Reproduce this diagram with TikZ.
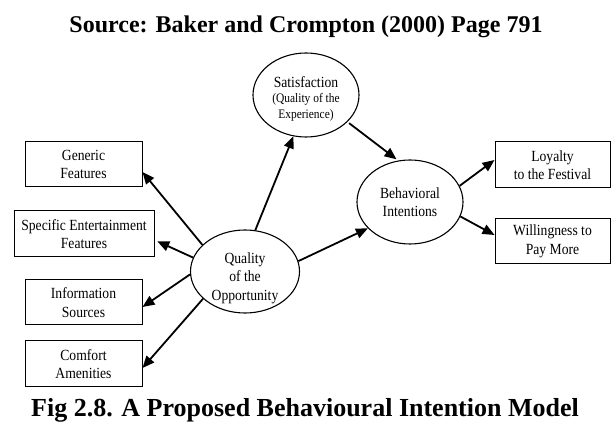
\documentclass[tikz,border=0pt]{standalone}
\usepackage{fontspec}
\setmainfont{Liberation Serif}
% narrow serif used for the labels inside the diagram
\newfontfamily\diagfont[FakeStretch=0.88]{Liberation Serif}
\usetikzlibrary{shapes.geometric,arrows.meta}

\newcommand{\lbl}{\diagfont\fontsize{15.5}{18.5}\selectfont}
\newcommand{\sublbl}{\diagfont\fontsize{13}{15}\selectfont}

\begin{document}
\begin{tikzpicture}[x=1pt,y=-1pt,
  box/.style={draw,line width=1pt,rectangle,minimum width=117pt,minimum height=45pt,
              inner sep=0pt,align=center,font=\lbl},
  oval/.style={draw,line width=1.1pt,ellipse,minimum width=106pt,minimum height=84pt,
               inner sep=0pt,align=center,font=\lbl},
  txt/.style={inner sep=0pt,align=center,font=\lbl},
  link/.style={line width=1.8pt,-{Triangle[length=12pt,width=10pt]}},
]
\useasboundingbox (0,0) rectangle (611,430);

% headings
\node[anchor=base,font=\bfseries\fontsize{24}{28}\selectfont] (title) at (306,33)
  {Source: Baker and Crompton (2000) Page 791};
\node[anchor=base,font=\bfseries\fontsize{26}{30}\selectfont] (caption) at (305,417)
  {Fig 2.8. A Proposed Behavioural Intention Model};

% constructs (outline first, wording set slightly low inside)
\node[oval] (sat) at (306,95) {};
\node[txt] (sattext) at (306,99)
  {Satisfaction\\[-4pt]\sublbl(Quality of the\\[-2pt]\sublbl Experience)};
\node[oval] (beh) at (410,202) {Behavioral\\Intentions};
\node[oval,minimum width=109pt,minimum height=83pt] (qual) at (245,271.5) {};
\node[txt] (qualtext) at (245,278) {Quality\\of the\\Opportunity};

% attribute boxes
\node[box] (gen) at (83.5,164.5) {Generic\\Features};
\node[box,minimum width=140pt,minimum height=46pt] (spec) at (84,234)
  {Specific Entertainment\\Features};
\node[box] (info) at (83.5,302.5) {Information\\Sources};
\node[box,minimum height=46pt] (comf) at (83.5,364) {Comfort\\Amenities};

% outcome boxes
\node[box,minimum width=115pt,minimum height=46pt] (loy) at (552.5,165)
  {Loyalty\\to the Festival};
\node[box,minimum width=115pt,minimum height=45pt] (will) at (552.5,241.5)
  {Willingness to\\Pay More};

% paths
\draw[link] (qual.148) -- ([yshift=-7.5pt]gen.east);
\draw[link,shorten >=3pt] (qual.165) -- ([yshift=-6pt]spec.east);
\draw[link] (qual.183) -- ([yshift=-4.5pt]info.east);
\draw[link] (qual.213) -- ([yshift=-4pt]comf.east);
\draw[link] (qual.76) -- (sat.253);
\draw[link,shorten <=2pt,shorten >=2pt] (sat.327) -- (beh.106);
\draw[link] (qual.11) -- (beh.212);
\draw[link] (beh.18) -- ([yshift=5pt]loy.west);
\draw[link] (beh.344) -- ([yshift=6.5pt]will.west);
\end{tikzpicture}
\end{document}
